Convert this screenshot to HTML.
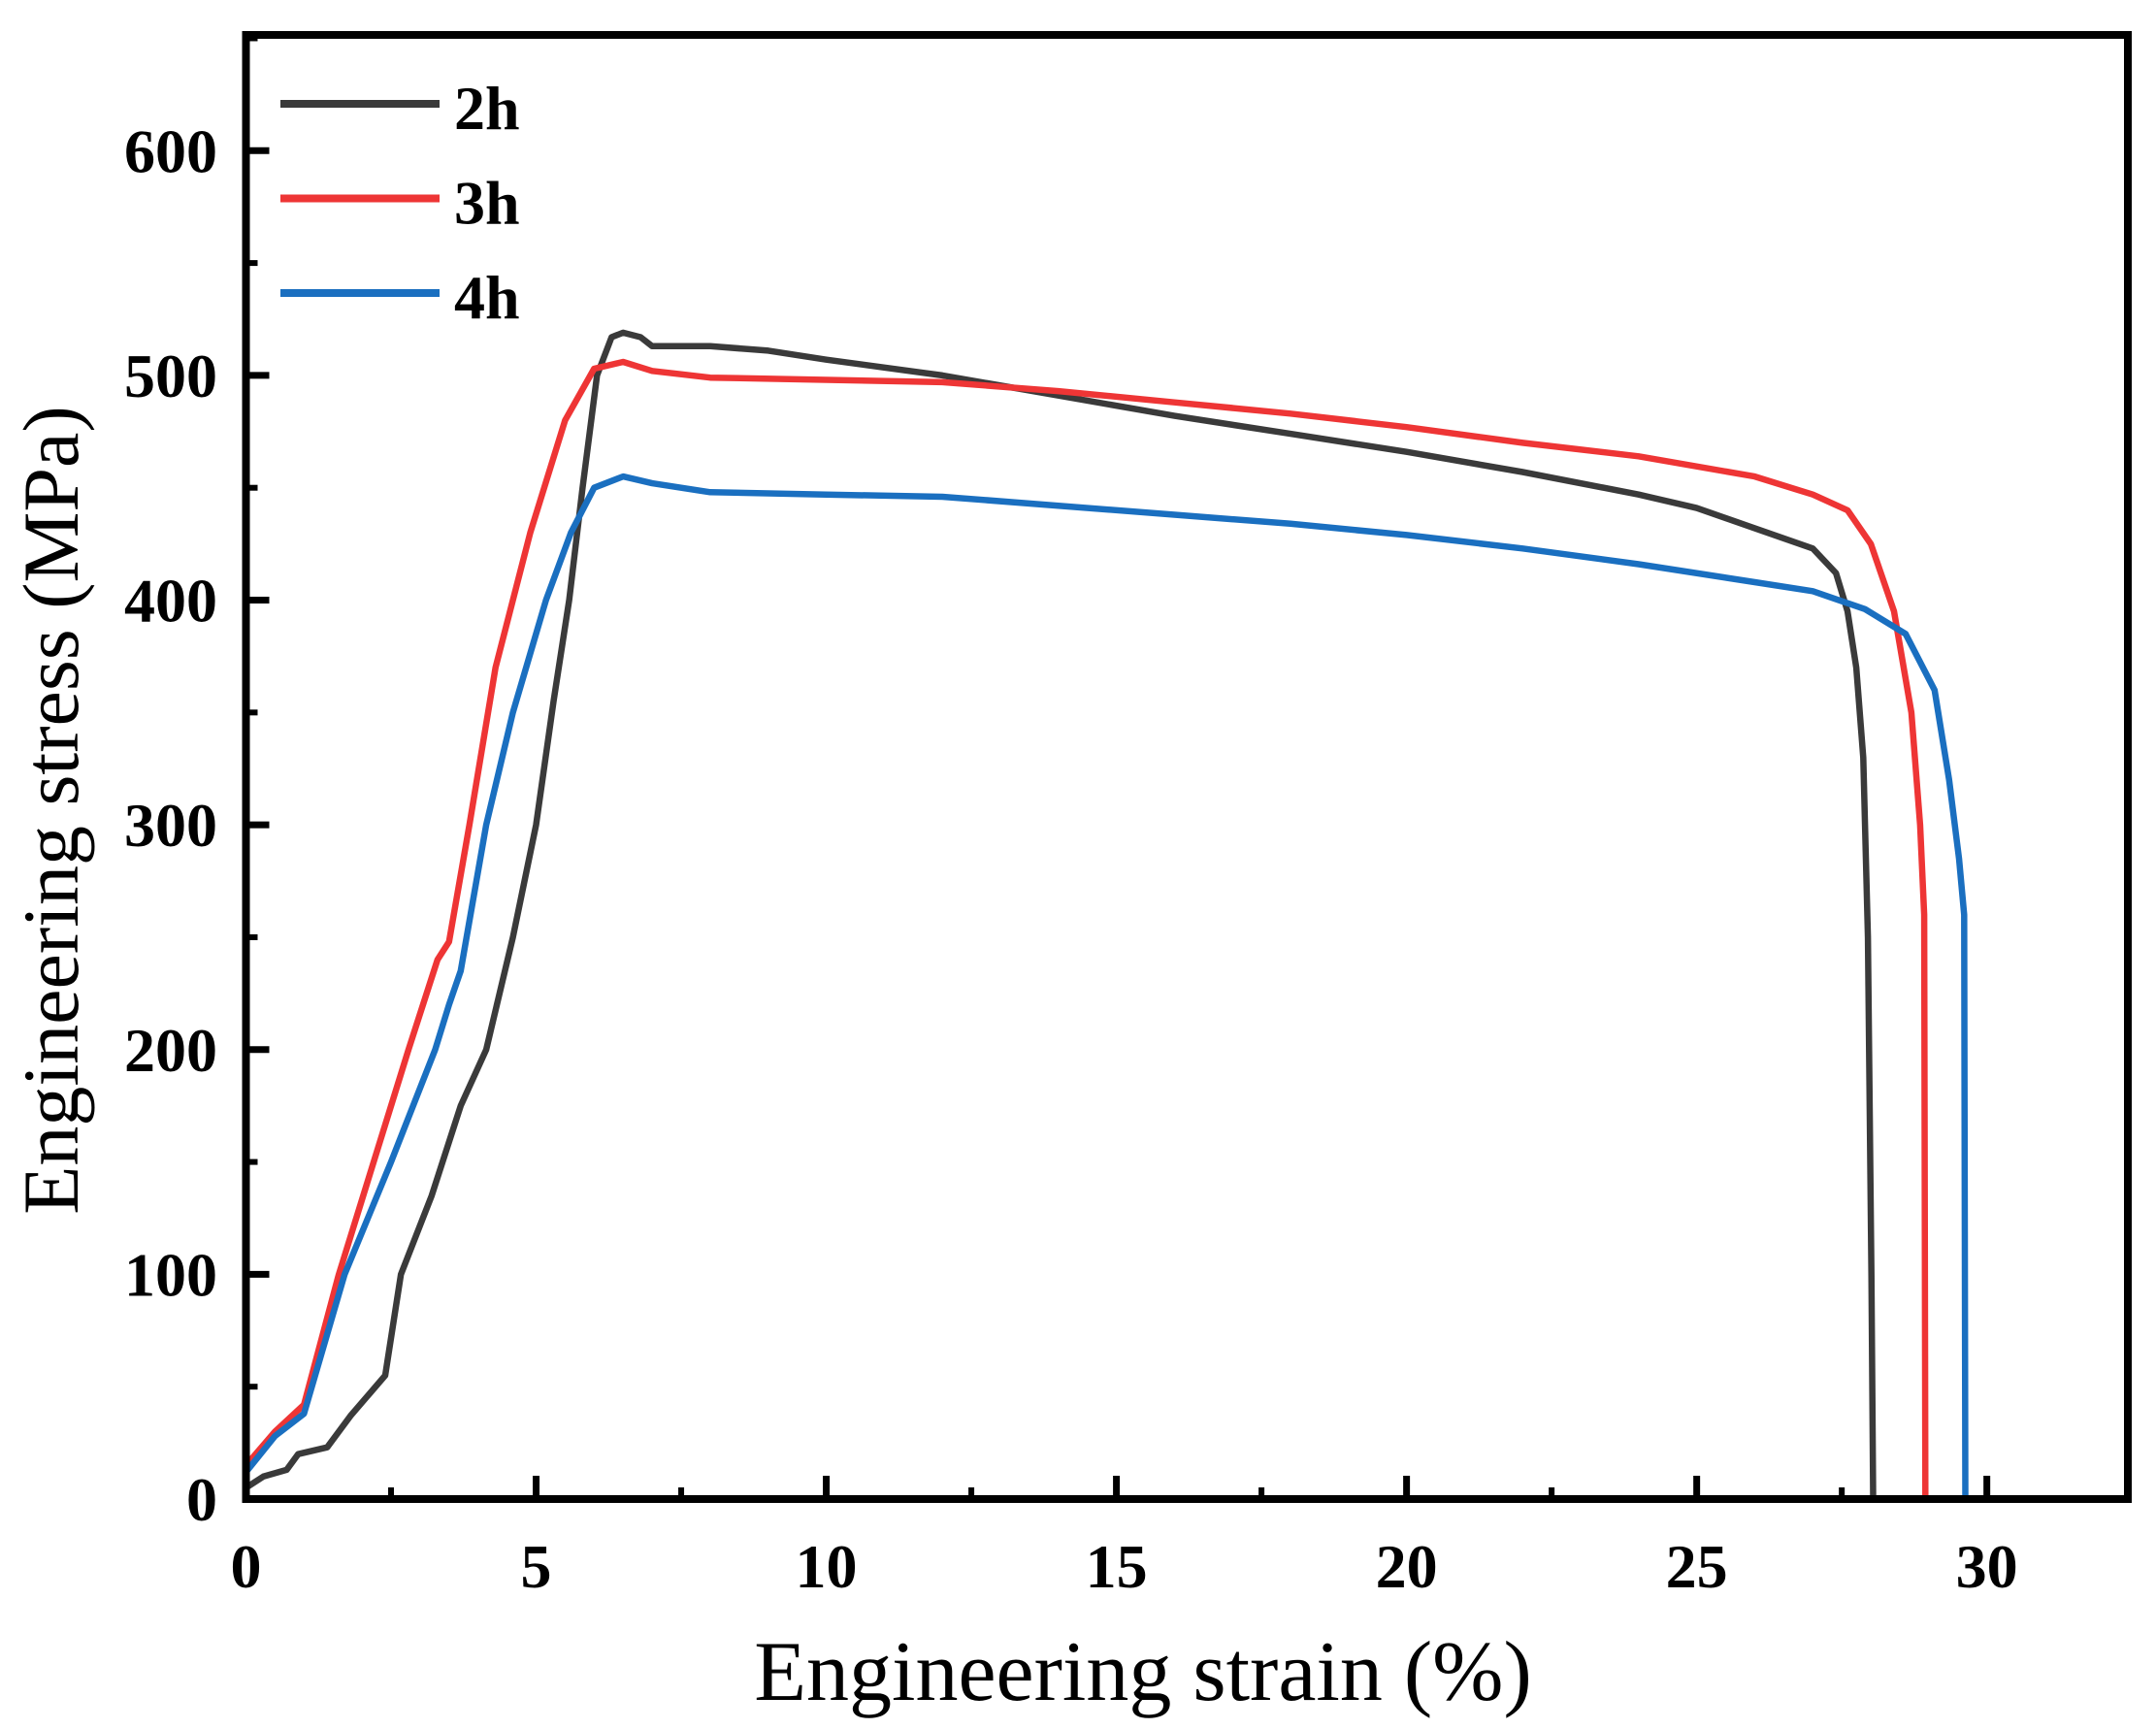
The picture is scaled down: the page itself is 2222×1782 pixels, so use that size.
<!DOCTYPE html>
<html><head><meta charset="utf-8"><style>
html,body{margin:0;padding:0;background:#fff;}
svg text{font-family:"Liberation Serif",serif;}
</style></head><body>
<svg id="chart" width="2222" height="1777" viewBox="0 0 2222 1777" xmlns="http://www.w3.org/2000/svg">
<g id="series"></g>
<g id="axes"></g>
<text x="1178" y="1752" text-anchor="middle" font-size="88">Engineering strain (%)</text>
<text x="0" y="0" text-anchor="middle" font-size="82" transform="translate(80,835) rotate(-90)">Engineering stress (MPa)</text>
<g id="legend"></g>
</svg>
<script>
const xTicks=[0,5,10,15,20,25,30];
const yTicks=[0,100,200,300,400,500,600];
const seriesNames=["2h","3h","4h"];
const seriesColors=["#3a3a3a","#ee3535","#1a6fc0"];
const strain2h=[0,0.3,0.7,0.9,1.4,1.8,2.4,2.67,3.2,3.7,4.14,4.6,5,5.3,5.57,5.8,6.05,6.3,6.5,6.8,7,8,9,10,12,14,16,18,20,22,24,25,26,27,27.4,27.6,27.75,27.87,27.95,28.01,28.04];
const stress2h=[5,10,13,20,23,37,55,100,135,175,200,250,300,355,400,450,500,517,519,517,513,513,511,507,500,491,482,474,466,457,447,441,432,423,412,395,370,330,250,100,0];
const strain3h=[0,0.5,1,1.6,2.2,2.8,3.3,3.5,3.85,4.3,4.9,5.5,6,6.5,7,8,10,12,14,16,18,20,22,24,26,27,27.6,28.0,28.4,28.7,28.85,28.92,28.94];
const stress3h=[15,30,42,100,150,200,240,248,300,370,430,480,503,506,502,499,498,497,493,488,483,477,470,464,455,447,440,425,395,350,300,260,0];
const strain4h=[0,0.5,1,1.7,2.5,3.26,3.5,3.7,4.14,4.6,5.17,5.6,6,6.5,7,8,10,12,14,16,18,20,22,24,26,27,27.9,28.6,29.1,29.35,29.52,29.61,29.63];
const stress4h=[12,28,38,100,150,200,220,235,300,350,400,430,450,455,452,448,447,446,442,438,434,429,423,416,408,404,396,385,360,320,285,260,0];

const X0=253.5,X1=2193,Y0=1545,Y1=36;
const xMax=32.43,yMax=651.5;
const sx=v=>X0+(X1-X0)*v/xMax;
const sy=v=>Y0-(Y0-Y1)*v/yMax;
const NS="http://www.w3.org/2000/svg";
function mk(t,a){const e=document.createElementNS(NS,t);for(const k in a)e.setAttribute(k,a[k]);return e;}

const sg=document.getElementById('series');
const allX=[strain2h,strain3h,strain4h],allY=[stress2h,stress3h,stress4h];
for(let i=0;i<3;i++){
  const d=allX[i].map((v,j)=>(j?'L':'M')+sx(v).toFixed(1)+','+sy(allY[i][j]).toFixed(1)).join(' ');
  const p=mk('path',{d:d,fill:'none',stroke:seriesColors[i],'stroke-width':6.5,'stroke-linejoin':'round'});
  
  
  sg.appendChild(p);
}

const ag=document.getElementById('axes');
const frame=mk('rect',{x:X0,y:Y1,width:X1-X0,height:Y0-Y1,fill:'none',stroke:'#000','stroke-width':8});


ag.appendChild(frame);
xTicks.forEach((t,i)=>{
  const tk=mk('line',{x1:sx(t),x2:sx(t),y1:Y0,y2:Y0-24,stroke:'#000','stroke-width':7});
  
  
  ag.appendChild(tk);
  const m=t+2.5;
  if(m<xMax){const mt=mk('line',{x1:sx(m),x2:sx(m),y1:Y0,y2:Y0-12,stroke:'#000','stroke-width':6});
  
  
  ag.appendChild(mt);}
  const lb=mk('text',{x:sx(t),y:1636,'text-anchor':'middle','font-size':64,'font-weight':'bold'});
  lb.textContent=t;
  
  
  ag.appendChild(lb);
});
yTicks.forEach(t=>{
  const tk=mk('line',{x1:X0,x2:X0+24,y1:sy(t),y2:sy(t),stroke:'#000','stroke-width':7});
  
  
  ag.appendChild(tk);
  const m=t+50;
  if(m<yMax){const mt=mk('line',{x1:X0,x2:X0+12,y1:sy(m),y2:sy(m),stroke:'#000','stroke-width':6});
  
  
  ag.appendChild(mt);}
  const lb=mk('text',{x:224,y:sy(t)+22,'text-anchor':'end','font-size':64,'font-weight':'bold'});
  lb.textContent=t;
  
  
  ag.appendChild(lb);
});

const lg=document.getElementById('legend');
seriesNames.forEach((n,i)=>{
  const y=107+i*97.5;
  const l=mk('line',{x1:289,x2:453,y1:y,y2:y,stroke:seriesColors[i],'stroke-width':8});
  
  
  lg.appendChild(l);
  const t=mk('text',{x:468,y:y+26,'font-size':64,'font-weight':'bold'});
  t.textContent=n;
  
  
  lg.appendChild(t);
});
</script>
</body></html>
